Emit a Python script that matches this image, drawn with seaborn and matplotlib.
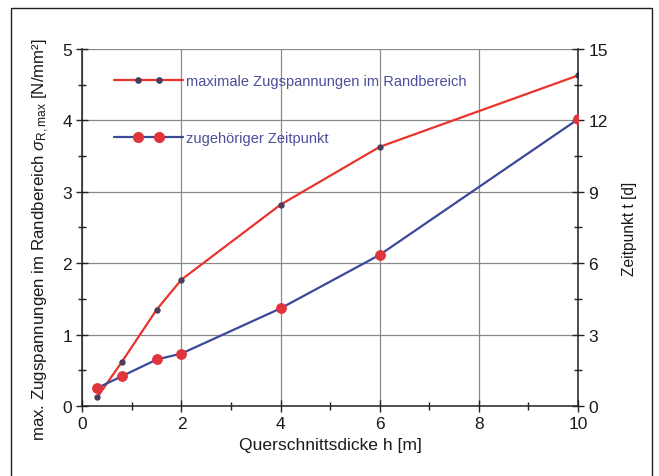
import matplotlib
matplotlib.use("Agg")
import matplotlib.pyplot as plt
import seaborn as sns
import pandas as pd
from matplotlib.patches import Rectangle
from matplotlib.lines import Line2D
from matplotlib.legend_handler import HandlerBase
from matplotlib.ticker import MultipleLocator

sns.set_theme(style="white")
plt.rcParams['font.family'] = ['Liberation Sans', 'DejaVu Sans']
plt.rcParams['mathtext.fontset'] = 'custom'
plt.rcParams['mathtext.rm'] = 'Liberation Sans'
plt.rcParams['mathtext.it'] = 'Liberation Sans:italic'

# Data
h = [0.3, 0.8, 1.5, 2.0, 4.0, 6.0, 10.0]
sigma = [0.12, 0.62, 1.35, 1.77, 2.82, 3.63, 4.63]
t_days = [0.75, 1.25, 1.95, 2.2, 4.1, 6.35, 12.05]

label_sigma = "maximale Zugspannungen im Randbereich"
label_t = "zugehöriger Zeitpunkt"

df = pd.DataFrame({"h": h, "sigma": sigma, "t": t_days})

RED = "#e8342c"
BLUE = "#3c4898"
DOT = "#4a3d5c"
MRED = "#e0343c"
TXT = "#4b4f9a"


class TwoDotHandler(HandlerBase):
    def create_artists(self, legend, orig_handle, xdescent, ydescent,
                       width, height, fontsize, trans):
        y = (height - ydescent) / 2
        x0 = -xdescent
        line = Line2D([x0, x0 + width], [y, y], color=orig_handle.get_color(),
                      lw=orig_handle.get_linewidth())
        xs = [x0 + 0.35 * width, x0 + 0.65 * width]
        marks = Line2D(xs, [y, y], ls="none", marker="o",
                       ms=orig_handle.get_markersize(),
                       mfc=orig_handle.get_markerfacecolor(),
                       mec=orig_handle.get_markeredgecolor())
        line.set_transform(trans)
        marks.set_transform(trans)
        return [line, marks]


fig = plt.figure(figsize=(6.59, 4.77), dpi=100)
ax = fig.add_axes([0.125, 0.147, 0.752, 0.748])
ax2 = ax.twinx()

sns.lineplot(data=df, x="h", y="sigma", ax=ax, color=RED, lw=1.6,
             marker="o", markersize=3.8, markerfacecolor=DOT,
             markeredgecolor=DOT, label=label_sigma, legend=False, zorder=5)
sns.lineplot(data=df, x="h", y="t", ax=ax2, color=BLUE, lw=1.6,
             marker="o", markersize=7, markerfacecolor=MRED,
             markeredgecolor=MRED, label=label_t, legend=False, zorder=5)

ax.set_xlim(0, 10)
ax.set_ylim(0, 5)
ax2.set_ylim(0, 15)

ax.xaxis.set_major_locator(MultipleLocator(2))
ax.xaxis.set_minor_locator(MultipleLocator(1))
ax.yaxis.set_major_locator(MultipleLocator(1))
ax.yaxis.set_minor_locator(MultipleLocator(0.5))
ax2.yaxis.set_major_locator(MultipleLocator(3))
ax2.yaxis.set_minor_locator(MultipleLocator(1.5))

ax.grid(True, which="major", color="#8a8a8a", lw=0.9)
ax.set_axisbelow(True)

for a in (ax, ax2):
    for s in a.spines.values():
        s.set_visible(False)
ax.spines['left'].set_visible(True)
ax.spines['bottom'].set_visible(True)
ax2.spines['right'].set_visible(True)
for s in (ax.spines['left'], ax.spines['bottom'], ax2.spines['right']):
    s.set_color("#222222")
    s.set_linewidth(1.1)

ax.tick_params(axis="both", which="major", direction="inout", length=9, width=1,
               color="#222222", labelsize=12.5, labelcolor="#1a1a1a", pad=3,
               left=True, bottom=True)
ax.tick_params(axis="both", which="minor", direction="inout", length=6, width=1,
               color="#222222", left=True, bottom=True)
ax2.tick_params(axis="y", which="major", direction="inout", length=9, width=1,
                color="#222222", labelsize=12.5, labelcolor="#1a1a1a", pad=3, right=True)
ax2.tick_params(axis="y", which="minor", direction="inout", length=6, width=1,
                color="#222222", right=True)

ax.set_xlabel("Querschnittsdicke h [m]", fontsize=12.6, color="#1a1a1a", labelpad=4)
ax.set_ylabel(r"max. Zugspannungen im Randbereich $\sigma_{\mathrm{R,max}}$ [N/mm²]",
              fontsize=12.2, color="#1a1a1a")
ax.yaxis.set_label_coords(-0.064, 0.47)
ax2.set_ylabel("Zeitpunkt t [d]", fontsize=11.2, color="#1a1a1a", labelpad=10,
               rotation=90)

handles = ax.get_lines()[:1] + ax2.get_lines()[:1]
leg = ax.legend(handles, [label_sigma, label_t], loc="upper left",
                bbox_to_anchor=(0.038, 0.966), frameon=False,
                handler_map={Line2D: TwoDotHandler()},
                handlelength=4.7, handletextpad=0.2, labelspacing=2.95,
                fontsize=10.5, labelcolor=TXT)

fig.patches.append(Rectangle((0.0167, -0.01), 0.9723, 0.991, transform=fig.transFigure,
                             fill=False, edgecolor="#222222", lw=1.0))

fig.savefig("out.png", dpi=100)
